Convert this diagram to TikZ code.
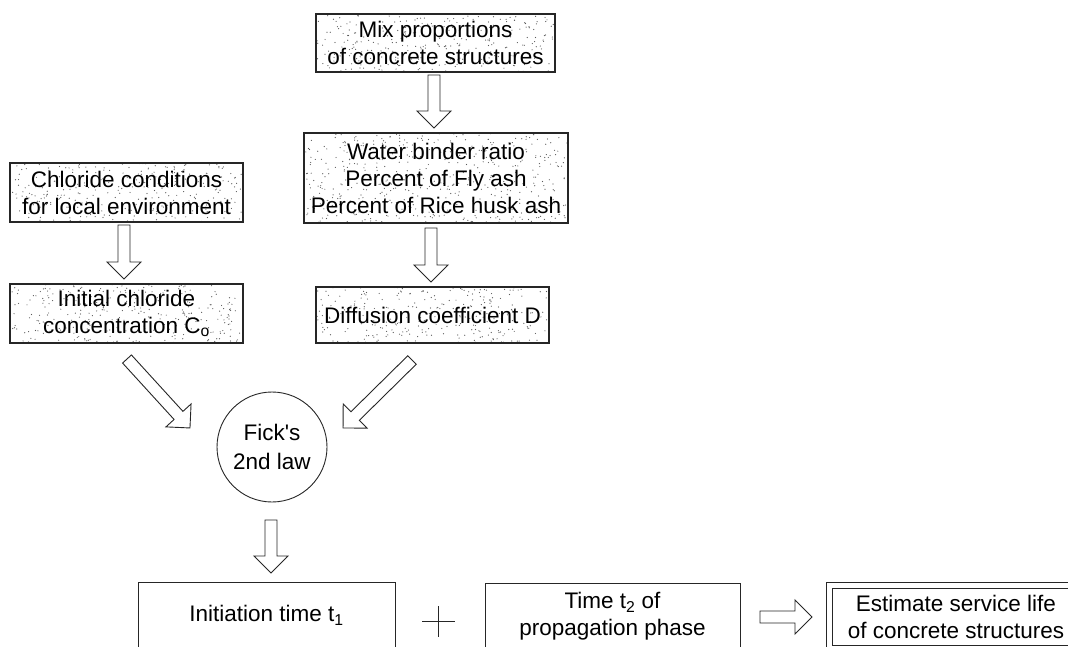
\documentclass[tikz,border=0pt]{standalone}
\usepackage{fontspec}
\setmainfont{Liberation Sans}
\usepackage{tikz}
\usetikzlibrary{calc}

% hollow block arrow from #1 to #2
\newcommand{\hollowarrow}[2]{%
  \draw[hollow] let \p1=($(#2)-(#1)$), \n1={atan2(\y1,\x1)}, \n2={veclen(\x1,\y1)} in
    [shift={(#1)}, rotate=\n1]
    (0,6) -- ({\n2-17},6) -- ({\n2-17},17) -- (\n2,0) -- ({\n2-17},-17) -- ({\n2-17},-6) -- (0,-6) -- cycle;
}

\begin{document}
\begin{tikzpicture}[
    x=1pt, y=-1pt,
    every node/.style={align=center},
    hollow/.style={draw=black!85, line width=0.9pt, fill=white, line join=miter},
    speckle/.style={
        path picture={
            \foreach \k in {1,...,#1}{
                \fill[black!65] let \p1=(path picture bounding box.south west),
                    \p2=(path picture bounding box.north east) in
                    ({\x1+rnd*(\x2-\x1)},{\y1+rnd*(\y2-\y1)}) circle (0.6pt);
            }
        }
    },
    box/.style={
        rectangle,
        draw=black!85,
        line width=1.3pt,
        fill=white,
        inner sep=0pt,
        font=\fontsize{22.5}{27}\selectfont
    },
    plain/.style={
        rectangle,
        draw=black!85,
        line width=0.9pt,
        inner sep=0pt,
        font=\fontsize{22.5}{27}\selectfont
    },
    law/.style={
        circle,
        draw=black!85,
        line width=0.9pt,
        minimum size=110pt,
        inner sep=0pt,
        font=\fontsize{22.5}{29}\selectfont
    },
]
\pgfmathsetseed{7}
\useasboundingbox (0,0) rectangle (1068,647);

\node[box, speckle=300, minimum width=239pt, minimum height=58pt] (mix)   at (435.5,43)    {Mix proportions\\of concrete structures};
\node[box, speckle=500, minimum width=264pt, minimum height=90pt] (ratio) at (436,178)     {Water binder ratio\\Percent of Fly ash\\Percent of Rice husk ash};
\node[box, speckle=290, minimum width=233pt, minimum height=56pt] (diff)  at (432.5,315)   {Diffusion coefficient D};
\node[box, speckle=300, minimum width=233pt, minimum height=59pt] (env)   at (126.5,192.5) {Chloride conditions\\for local environment};
\node[box, speckle=300, minimum width=233pt, minimum height=59pt] (conc)  at (126.5,313.5) {Initial chloride\\concentration C\textsubscript{o}};

\node[law] (fick) at (272,447) {Fick\textquotesingle s\\2nd law};

\node[plain, minimum width=257pt, minimum height=67pt] (tinit) at (266.5,615.5) {Initiation time t\textsubscript{1}};
\node[plain, minimum width=255pt, minimum height=66pt] (tprop) at (612.5,616)   {Time t\textsubscript{2} of\\propagation phase};
\node[plain, double, double distance=5pt, minimum width=253pt, minimum height=62.5pt] (life) at (956,617) {Estimate service life\\of concrete structures};

% plus sign
\draw[black!85, line width=0.8pt] (422,621) -- (455,621) (438,606) -- (438,637);

\coordinate (a1) at (434,75);  \coordinate (b1) at (434,128);
\coordinate (a2) at (431,228); \coordinate (b2) at (431,282);
\coordinate (a3) at (124,225); \coordinate (b3) at (124,279);
\coordinate (a4) at (127,359); \coordinate (b4) at (190,428);
\coordinate (a5) at (412,360); \coordinate (b5) at (343,428);
\coordinate (a6) at (271,520); \coordinate (b6) at (271,573);
\coordinate (a7) at (760,617); \coordinate (b7) at (812,617);

\hollowarrow{a1}{b1}
\hollowarrow{a2}{b2}
\hollowarrow{a3}{b3}
\hollowarrow{a4}{b4}
\hollowarrow{a5}{b5}
\hollowarrow{a6}{b6}
\hollowarrow{a7}{b7}

\end{tikzpicture}
\end{document}
